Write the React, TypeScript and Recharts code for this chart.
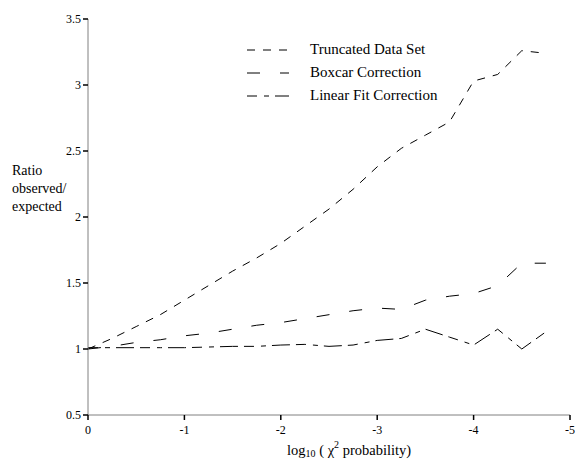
import { LineChart, Line, XAxis, YAxis, Label } from 'recharts';

const xs = [0, -0.25, -0.5, -0.75, -1, -1.25, -1.5, -1.75, -2, -2.25, -2.5, -2.75, -3, -3.25, -3.5, -3.75, -4, -4.25, -4.5, -4.75];
const truncated = [1.0, 1.08, 1.17, 1.26, 1.37, 1.48, 1.59, 1.69, 1.8, 1.93, 2.06, 2.21, 2.38, 2.52, 2.62, 2.72, 3.03, 3.08, 3.26, 3.24];
const boxcar = [1.0, 1.02, 1.05, 1.07, 1.1, 1.12, 1.15, 1.18, 1.2, 1.23, 1.26, 1.29, 1.31, 1.3, 1.37, 1.4, 1.42, 1.48, 1.65, 1.65];
const linearFit = [1.01, 1.01, 1.01, 1.01, 1.01, 1.015, 1.02, 1.02, 1.03, 1.035, 1.02, 1.03, 1.065, 1.08, 1.15, 1.09, 1.03, 1.15, 1.0, 1.13];
const xTicks = [0, -1, -2, -3, -4, -5];
const yTicks = [0.5, 1, 1.5, 2, 2.5, 3, 3.5];

const data = xs.map((x, i) => ({
  x,
  truncated: truncated[i],
  boxcar: boxcar[i],
  linearFit: linearFit[i],
}));

const FONT = 'Liberation Serif';

const legendItems = [
  { name: 'Truncated Data Set', dash: '8 8' },
  { name: 'Boxcar Correction', dash: '13 20' },
  { name: 'Linear Fit Correction', dash: '10 7 5 6 18' },
];

function LegendBox() {
  return (
    <div style={{ position: 'absolute', left: 247, top: 38, fontFamily: FONT, fontSize: 15, color: '#000' }}>
      {legendItems.map((it) => (
        <div key={it.name} style={{ display: 'flex', alignItems: 'center', height: 23 }}>
          <svg width={63} height={10}>
            <line x1={0} y1={5} x2={42} y2={5} stroke="#000" strokeWidth={1} strokeDasharray={it.dash} />
          </svg>
          <span>{it.name}</span>
        </div>
      ))}
    </div>
  );
}

function XLabel() {
  return (
    <text x={287} y={455} fontFamily={FONT} fontSize={14.5} fill="#000">
      <tspan>log</tspan>
      <tspan fontSize={10} dy={2}>10</tspan>
      <tspan dy={-2}>{'  (  '}</tspan>
      <tspan>χ</tspan>
      <tspan fontSize={10} dy={-7}>2</tspan>
      <tspan dy={7}>{' probability)'}</tspan>
    </text>
  );
}

function YLabel() {
  return (
    <text x={12} y={175} fontFamily={FONT} fontSize={14} fill="#000">
      <tspan x={12} dy={0}>Ratio</tspan>
      <tspan x={12} dy={18}>observed/</tspan>
      <tspan x={12} dy={18}>expected</tspan>
    </text>
  );
}

export default function App() {
  return (
    <div style={{ position: 'absolute', left: 0, top: 0, width: 575, height: 463, background: '#fff' }}>
      <LineChart width={575} height={463} data={data} margin={{ top: 19, right: 5, left: 0, bottom: 0 }}>
        <XAxis
          dataKey="x"
          type="number"
          domain={[-5, 0]}
          reversed
          ticks={xTicks}
          interval={0}
          height={48}
          tickSize={5}
          axisLine={{ stroke: '#808080' }}
          tickLine={{ stroke: '#000', strokeWidth: 1.5 }}
          tick={{ fill: '#000', fontSize: 12, fontFamily: FONT, dy: 3 }}
        >
          <Label content={<XLabel />} />
        </XAxis>
        <YAxis
          type="number"
          domain={[0.5, 3.5]}
          ticks={yTicks}
          interval={0}
          width={88}
          tickSize={5}
          axisLine={{ stroke: '#808080' }}
          tickLine={{ stroke: '#000', strokeWidth: 1.5 }}
          tick={{ fill: '#000', fontSize: 12, fontFamily: FONT }}
        >
          <Label content={<YLabel />} />
        </YAxis>
        <Line dataKey="truncated" name="Truncated Data Set" stroke="#000" strokeWidth={1} strokeDasharray="8 8" dot={false} isAnimationActive={false} />
        <Line dataKey="boxcar" name="Boxcar Correction" stroke="#000" strokeWidth={1} strokeDasharray="13 20" dot={false} isAnimationActive={false} />
        <Line dataKey="linearFit" name="Linear Fit Correction" stroke="#000" strokeWidth={1} strokeDasharray="10 7 5 6 18 6" dot={false} isAnimationActive={false} />
      </LineChart>
      <LegendBox />
    </div>
  );
}
